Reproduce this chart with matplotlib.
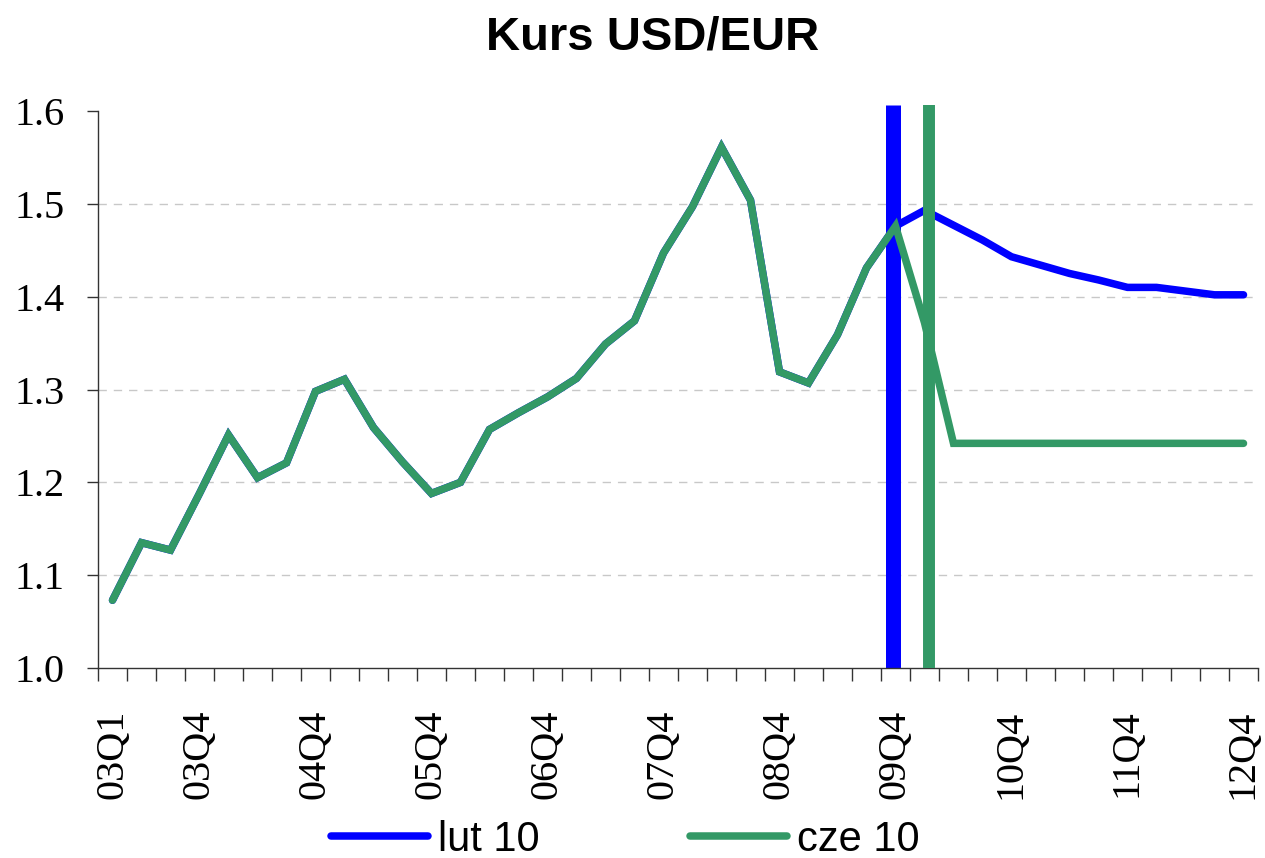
import numpy as np
import matplotlib
matplotlib.use("Agg")
from matplotlib import pyplot as plt

# quarters 03Q1 .. 12Q4
quarters = [f"{y:02d}Q{q}" for y in range(3, 13) for q in range(1, 5)]
shown_labels = ["03Q1", "03Q4", "04Q4", "05Q4", "06Q4", "07Q4",
                "08Q4", "09Q4", "10Q4", "11Q4", "12Q4"]

# common history 03Q1 .. 09Q4
history = [1.073, 1.135, 1.127, 1.188, 1.251, 1.205, 1.221, 1.298,
           1.311, 1.259, 1.222, 1.188, 1.200, 1.257, 1.275, 1.292,
           1.312, 1.349, 1.374, 1.447, 1.497, 1.561, 1.504, 1.319,
           1.307, 1.359, 1.431, 1.476]

# forecasts 10Q1 .. 12Q4
lut10_forecast = [1.493, 1.477, 1.461, 1.443, 1.434, 1.425,
                  1.418, 1.410, 1.410, 1.406, 1.402, 1.402]
cze10_forecast = [1.372, 1.242, 1.242, 1.242, 1.242, 1.242,
                  1.242, 1.242, 1.242, 1.242, 1.242, 1.242]

lut10 = history + lut10_forecast
cze10 = history + cze10_forecast

# forecast date markers (position on the quarter axis)
lut10_marker = 26.9
cze10_marker = 28.16

blue = "#0000FF"
green = "#339966"

fig = plt.figure(figsize=(12.65, 8.58), dpi=100)
ax = fig.add_axes([98 / 1265, 1 - 668 / 858, 1160 / 1265, 557 / 858])

x = np.arange(len(quarters))

ax.plot([lut10_marker, lut10_marker], [1.0, 1.6065], color=blue, lw=10.8,
        solid_capstyle="butt", clip_on=False, zorder=2)
ax.plot(x, lut10, color=blue, lw=5.4, solid_capstyle="round",
        solid_joinstyle="miter", zorder=3, label="lut 10")
ax.plot([cze10_marker, cze10_marker], [1.0, 1.6065], color=green, lw=8.6,
        solid_capstyle="butt", clip_on=False, zorder=4)
ax.plot(x, cze10, color=green, lw=5.4, solid_capstyle="round",
        solid_joinstyle="miter", zorder=5, label="cze 10")

ax.set_xlim(-0.5, len(quarters) - 0.5)
ax.set_ylim(1.0, 1.6)

ax.spines["top"].set_visible(False)
ax.spines["right"].set_visible(False)
for s in ["left", "bottom"]:
    ax.spines[s].set_color("#333333")
    ax.spines[s].set_linewidth(1.0)

serif = ["Liberation Serif", "DejaVu Serif"]
sans = ["Liberation Sans", "DejaVu Sans"]

yt = [1.0, 1.1, 1.2, 1.3, 1.4, 1.5, 1.6]
ax.set_yticks(yt)
ax.set_yticklabels([f"{v:.1f}" for v in yt], fontfamily=serif, fontsize=29)
ax.tick_params(axis="y", direction="out", length=8, width=1, color="#333333", pad=16)
for v in yt[1:-1]:
    ax.axhline(v, color="#c8c8c8", lw=1, ls=(0, (6, 5)), zorder=1)

# category boundaries as tick marks, labels at category centres
ax.set_xticks(np.arange(-0.5, len(quarters)), minor=True)
ax.tick_params(axis="x", which="minor", direction="out", length=9, width=1, color="#333333")
label_pos = [quarters.index(q) for q in shown_labels]
ax.set_xticks(label_pos)
ax.set_xticklabels(shown_labels, rotation=90, fontfamily=serif, fontsize=29)
ax.tick_params(axis="x", which="major", length=0, pad=30)

fig.text(653 / 1265, 1 - 38 / 858, "Kurs USD/EUR", ha="center", va="center",
         fontsize=34, fontweight="bold", fontfamily=sans)

fig.legend(loc="center", bbox_to_anchor=(625 / 1265, 1 - 840 / 858), ncol=2,
           frameon=False, prop={"family": sans, "size": 30},
           handlelength=2.33, handletextpad=0.24, columnspacing=3.6,
           borderpad=0)

fig.savefig("out.png", dpi=100)
